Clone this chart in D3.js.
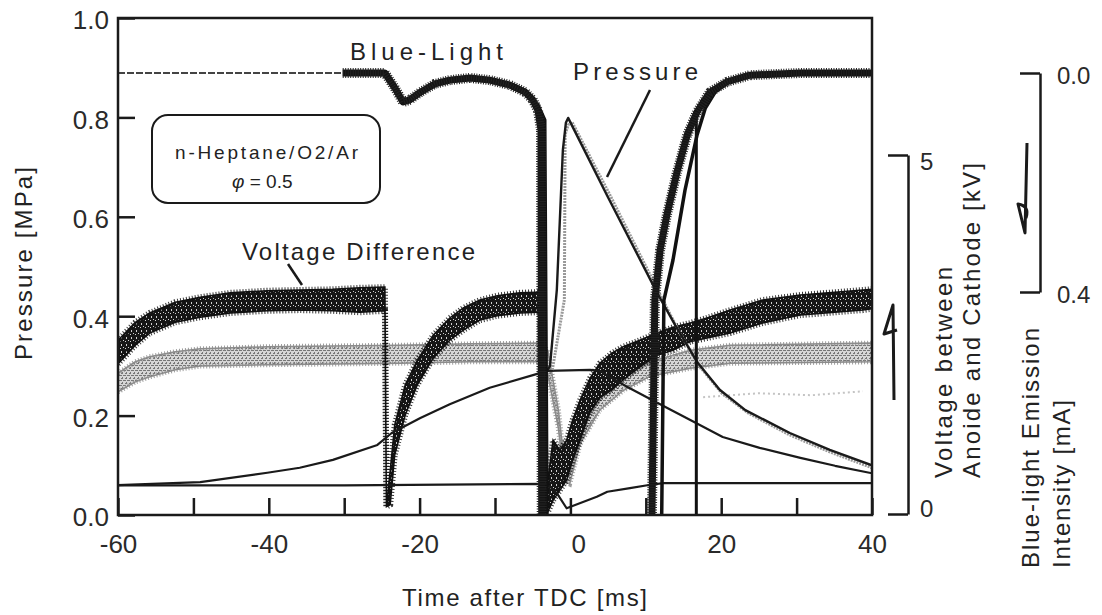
<!DOCTYPE html>
<html>
<head>
<meta charset="utf-8">
<script src="https://cdn.jsdelivr.net/npm/d3@7"></script>
<style>
	body { margin: 0; background: #fff; }
	svg { display: block; font-family: "Liberation Sans", Arial, Helvetica, sans-serif; }
</style>
</head>
<body>
<svg id="chart" width="1102" height="615" viewBox="0 0 1102 615"></svg>
<script>
// axes
const X_TICKS = [-60, -50, -40, -30, -20, -10, 0, 10, 20, 30, 40];
const X_LABELS = [-60, -40, -20, 0, 20, 40];
const PRESSURE_TICKS = [0, 0.2, 0.4, 0.6, 0.8, 1.0];
const VOLTAGE_TICKS = [0, 5];
const BLUE_TICKS = [0.0, 0.4];

// pressure [MPa] : [time ms, p]
const pressureMotored = [[-60, 0.060], [-49.1, 0.066], [-40.2, 0.085], [-35.9, 0.095], [-31.5, 0.111], [-25.6, 0.141],
	[-23.7, 0.165], [-19.9, 0.195], [-16.0, 0.223], [-10.7, 0.256], [-4.4, 0.284], [-3.1, 0.290], [2.6, 0.292],
	[3.9, 0.290], [7.5, 0.258], [11.9, 0.223], [15.9, 0.191], [20.2, 0.157], [25.1, 0.135], [30.5, 0.115],
	[35.1, 0.099], [40, 0.084]];
const pressureFired = [[-3.1, 0.290], [-2.7, 0.300], [-1.8, 0.453], [-1.0, 0.734], [-0.6, 0.789], [-0.3, 0.799],
	[4.9, 0.642], [11.5, 0.447], [13.9, 0.382], [16.8, 0.308], [19.8, 0.252], [23.2, 0.211], [29.1, 0.165],
	[34.4, 0.131], [40, 0.100]];
const pressureFiredGray = [[-2.4, 0.292], [-0.8, 0.433], [-0.7, 0.765], [-0.3, 0.785], [0.2, 0.791], [5.3, 0.642],
	[11.9, 0.443], [14.3, 0.372], [17.2, 0.298], [20.1, 0.245], [23.6, 0.205], [29.1, 0.161], [34.4, 0.127], [40, 0.095]];
const pressureFaint = [[17.6, 0.237], [25, 0.245], [32, 0.241], [38.8, 0.249]];

// voltage [kV] : [time ms, low, high] (noise band)
const voltageBlack = [[-60, 2.09, 2.42], [-57.7, 2.35, 2.67], [-55.8, 2.52, 2.80], [-52.4, 2.67, 2.95], [-49.1, 2.74, 3.02],
	[-45.1, 2.80, 3.08], [-40.2, 2.83, 3.11], [-35.9, 2.84, 3.12], [-31.5, 2.83, 3.13], [-27.9, 2.81, 3.15],
	[-24.6, 2.83, 3.16], [-24.4, 0.10, 0.10], [-23.9, 0.13, 0.61], [-23.3, 0.82, 1.24], [-21.9, 1.38, 1.80],
	[-20.3, 1.80, 2.14], [-18.2, 2.17, 2.49], [-16.0, 2.42, 2.73], [-14.2, 2.56, 2.87], [-12.0, 2.70, 2.98],
	[-9.7, 2.76, 3.04], [-6.7, 2.80, 3.08], [-4.4, 2.81, 3.09], [-4.0, 2.81, 3.09], [-3.8, 0.0, 0.0],
	[-3.0, 0.03, 0.47], [-2.3, 0.19, 1.03], [-1.4, 0.33, 0.89], [-0.5, 0.47, 1.03], [0.3, 0.75, 1.31],
	[1.3, 1.03, 1.59], [2.6, 1.42, 1.89], [3.9, 1.62, 2.10], [5.5, 1.73, 2.24], [7.0, 1.87, 2.33], [9.2, 2.05, 2.42],
	[11.5, 2.21, 2.52], [13.6, 2.28, 2.60], [15.9, 2.40, 2.66], [18.1, 2.45, 2.73], [21.2, 2.52, 2.84],
	[25.5, 2.66, 2.98], [30.5, 2.77, 3.05], [38.8, 2.84, 3.12], [40, 2.86, 3.13]];
const voltageGray = [[-60, 1.70, 1.96], [-57.7, 1.84, 2.12], [-55.8, 1.91, 2.19], [-52.4, 2.01, 2.26], [-49.1, 2.06, 2.30],
	[-40.2, 2.08, 2.33], [-31.5, 2.09, 2.34], [-22.6, 2.10, 2.35], [-13.3, 2.12, 2.37], [-4.0, 2.12, 2.38],
	[-3.0, 1.94, 2.28], [-1.6, 1.20, 1.45], [-0.7, 0.45, 0.62], [-0.1, 0.42, 0.60], [1.3, 0.98, 1.17],
	[3.9, 1.45, 1.62], [7.0, 1.72, 1.90], [10.6, 1.92, 2.12], [15.9, 2.03, 2.28], [21.2, 2.10, 2.35], [40, 2.12, 2.38]];
// voltage [kV] : [time ms, v]
const voltageLow = [[-60, 0.40], [-30, 0.40], [-4.0, 0.42], [-2.7, 0.38], [-1.8, 0.29], [-0.5, 0.08], [3.5, 0.24],
	[4.9, 0.31], [7.9, 0.36], [10.2, 0.40], [12.3, 0.43], [40, 0.43]];

// blue-light emission [mA] : [time ms, i]  (axis points down)
const blueQuiet = [[-60, 0.0], [-30.2, 0.0]];
const blueMain = [[-30.2, 0.0], [-24.6, 0.0], [-23.3, 0.027], [-22.2, 0.053], [-21.3, 0.049], [-19.9, 0.035],
	[-18.0, 0.020], [-16.0, 0.013], [-13.3, 0.009], [-10.7, 0.013], [-8.0, 0.022], [-6.0, 0.035], [-5.0, 0.049],
	[-4.3, 0.068], [-3.9, 0.104], [-3.8, 0.82], [10.8, 0.82], [11.2, 0.415], [11.9, 0.323], [12.8, 0.259],
	[14.1, 0.183], [15.5, 0.113], [16.8, 0.071], [18.5, 0.035], [20.8, 0.016], [23.8, 0.004], [30.5, 0.0], [40, 0.0]];
const blueSecond = [[-4.4, 0.055], [-3.4, 0.086], [-3.1, 0.82], [12.1, 0.82], [12.4, 0.415], [13.6, 0.342],
	[15.2, 0.214], [16.8, 0.113], [17.9, 0.064], [19.2, 0.035], [21, 0.016]];
const blueThird = [[16.7, 0.82], [16.7, 0.071], [17.5, 0.049], [19, 0.03]];

class PressureChart {
	constructor(svg_element_id) {
		this.svg = d3.select('#' + svg_element_id);

		this.x = d3.scaleLinear().domain([-60, 40]).range([118, 872]);
		this.y = d3.scaleLinear().domain([0, 1]).range([515, 18]);
		this.v = d3.scaleLinear().domain([0, 5]).range([514, 155]);
		this.b = d3.scaleLinear().domain([0, 0.4]).range([73, 292]);

		this.makeDefs();

		const plot = this.svg.append('g').attr('clip-path', 'url(#plot-clip)');

		// Order of creating groups decides what is on top
		this.drawBand(plot, voltageGray, 'url(#noise-gray)', '#8c8c8c', 5);
		this.drawLine(plot, pressureFaint, this.y, '#c4c4c4', 2, '2 3');
		this.drawBand(plot, voltageBlack, 'url(#noise-black)', '#111', 6);
		this.drawLine(plot, pressureMotored, this.y, '#1a1a1a', 2.2);
		this.drawLine(plot, voltageLow, this.v, '#1a1a1a', 2.2);
		this.drawLine(plot, pressureFiredGray, this.y, '#9a9a9a', 3, '2 1');
		this.drawLine(plot, pressureFired, this.y, '#1a1a1a', 2.4);
		this.drawLine(plot, blueQuiet, this.b, '#444', 2, '7 2');
		this.drawLine(plot, blueThird, this.b, '#111', 3);
		this.drawLine(plot, blueSecond, this.b, '#111', 3.5);
		this.drawLine(plot, blueMain, this.b, '#141414', 7);
		this.drawLine(plot, blueMain, this.b, '#222', 10, '1 1.5');

		this.drawAxes();
		this.drawLabels();
	}

	makeDefs() {
		const defs = this.svg.append('defs');
		defs.append('clipPath').attr('id', 'plot-clip')
			.append('rect')
			.attr('x', this.x.range()[0]).attr('y', this.y.range()[1])
			.attr('width', this.x.range()[1] - this.x.range()[0])
			.attr('height', this.y.range()[0] - this.y.range()[1]);

		// speckled fills for the noisy traces
		const black = defs.append('pattern').attr('id', 'noise-black')
			.attr('patternUnits', 'userSpaceOnUse').attr('width', 5).attr('height', 7);
		black.append('rect').attr('width', 5).attr('height', 7).attr('fill', '#161616');
		[[1, 1, 1, 2], [3, 4, 1, 1], [0, 5, 1, 1]].forEach(r => black.append('rect')
			.attr('x', r[0]).attr('y', r[1]).attr('width', r[2]).attr('height', r[3]).attr('fill', '#cfcfcf'));

		const gray = defs.append('pattern').attr('id', 'noise-gray')
			.attr('patternUnits', 'userSpaceOnUse').attr('width', 4).attr('height', 5);
		gray.append('rect').attr('width', 4).attr('height', 5).attr('fill', '#d6d6d6');
		[[0, 0, 2, 1], [2, 2, 1, 2], [1, 3, 1, 1], [3, 0, 1, 1]].forEach(r => gray.append('rect')
			.attr('x', r[0]).attr('y', r[1]).attr('width', r[2]).attr('height', r[3]).attr('fill', '#767676'));
	}

	drawLine(g, data, y_scale, color, width, dash = null) {
		const line = d3.line()
			.x(d => this.x(d[0]))
			.y(d => y_scale(d[1]))
			.curve(d3.curveLinear);
		g.append('path')
			.datum(data)
			.attr('d', line)
			.attr('fill', 'none')
			.attr('stroke', color)
			.attr('stroke-width', width)
			.attr('stroke-dasharray', dash)
			.attr('stroke-linejoin', 'round');
	}

	drawBand(g, data, fill, color, spike) {
		const area = d3.area()
			.x(d => this.x(d[0]))
			.y0(d => this.v(d[1]))
			.y1(d => this.v(d[2]));
		g.append('path')
			.datum(data)
			.attr('d', area)
			.attr('fill', fill)
			.attr('stroke', color)
			.attr('stroke-width', 1.5);

		// jagged edges of the noise band
		[1, 2].forEach(k => {
			g.append('path')
				.datum(data)
				.attr('d', d3.line().x(d => this.x(d[0])).y(d => this.v(d[k])))
				.attr('fill', 'none')
				.attr('stroke', color)
				.attr('stroke-width', spike)
				.attr('stroke-opacity', 0.85)
				.attr('stroke-dasharray', '1 2');
		});
	}

	drawAxes() {
		const x_axis = d3.axisBottom(this.x)
			.tickValues(X_TICKS)
			.tickSizeInner(-17)
			.tickSizeOuter(0)
			.tickPadding(20)
			.tickFormat(d => X_LABELS.includes(d) ? d : '');
		const y_axis = d3.axisLeft(this.y)
			.tickValues(PRESSURE_TICKS)
			.tickSizeInner(-17)
			.tickSizeOuter(0)
			.tickPadding(9)
			.tickFormat(d3.format('.1f'));
		const v_axis = d3.axisRight(this.v)
			.tickValues(VOLTAGE_TICKS)
			.tickSizeInner(-20)
			.tickSizeOuter(0)
			.tickPadding(12)
			.tickFormat(d3.format('d'));
		const b_axis = d3.axisRight(this.b)
			.tickValues(BLUE_TICKS)
			.tickSizeInner(-20)
			.tickSizeOuter(0)
			.tickPadding(17)
			.tickFormat(d3.format('.1f'));

		const gx = this.svg.append('g').attr('transform', 'translate(0,515)').call(x_axis);
		const gy = this.svg.append('g').attr('transform', 'translate(118,0)').call(y_axis);
		const gv = this.svg.append('g').attr('transform', 'translate(908,0)').call(v_axis);
		const gb = this.svg.append('g').attr('transform', 'translate(1040,0)').call(b_axis);

		gx.select('.domain').remove();
		gy.select('.domain').remove();
		[gx, gy, gv, gb].forEach(g => {
			g.attr('font-family', null).attr('font-size', 26);
			g.selectAll('line').attr('stroke', '#1a1a1a').attr('stroke-width', 2.5);
			g.selectAll('.domain').attr('stroke', '#1a1a1a').attr('stroke-width', 2.5);
			g.selectAll('text').attr('fill', '#2a2a2a');
		});
		gx.selectAll('.tick').filter(d => d === 0).select('text').attr('dx', '0.3em');
		gy.selectAll('text').attr('dy', '0.42em');
		gv.selectAll('text').attr('font-size', 24).attr('dy', '0.6em');
		gv.selectAll('.tick').filter(d => d === 0).select('text').attr('dy', '0.1em');
		gb.selectAll('text').attr('font-size', 24).attr('dy', '0.45em');

		// plot frame
		this.svg.append('rect')
			.attr('x', 118).attr('y', 18)
			.attr('width', 754).attr('height', 497)
			.attr('fill', 'none')
			.attr('stroke', '#1a1a1a')
			.attr('stroke-width', 2.5);
	}

	drawLabels() {
		const svg = this.svg;
		const text = (x, y, str, size, len, rotate = false) => {
			const t = svg.append('text')
				.attr('font-size', size)
				.attr('fill', '#222')
				.attr('textLength', len)
				.text(str);
			if (rotate) {
				t.attr('transform', 'translate(' + x + ',' + y + ') rotate(-90)');
			} else {
				t.attr('x', x).attr('y', y);
			}
			return t;
		};

		text(402, 606, 'Time after TDC [ms]', 24, 245);
		text(32, 360, 'Pressure [MPa]', 24, 193, true);
		text(952, 478, 'Voltage between', 24, 211, true);
		text(980, 478, 'Anoide and Cathode [kV]', 24, 315, true);
		text(1039, 568, 'Blue-light Emission', 24, 240, true);
		text(1070, 568, 'Intensity [mA]', 24, 168, true);

		text(350, 60, 'Blue-Light', 24, 153);
		text(573, 80, 'Pressure', 24, 125);
		text(242, 260, 'Voltage Difference', 24, 233);

		// leader lines
		svg.append('path').attr('d', 'M650,90 L607,177')
			.attr('stroke', '#1a1a1a').attr('stroke-width', 2.5);
		svg.append('path').attr('d', 'M288,264 L302,285')
			.attr('stroke', '#1a1a1a').attr('stroke-width', 2.5);

		// mixture box
		svg.append('rect')
			.attr('x', 152).attr('y', 115)
			.attr('width', 228).attr('height', 88)
			.attr('rx', 16)
			.attr('fill', '#fff')
			.attr('stroke', '#1a1a1a')
			.attr('stroke-width', 2);
		text(175, 159, 'n-Heptane/O2/Ar', 19, 183);
		const phi = svg.append('text')
			.attr('x', 232).attr('y', 188)
			.attr('font-size', 19)
			.attr('fill', '#222');
		phi.append('tspan').attr('font-style', 'italic').text('φ');
		phi.append('tspan').text(' = 0.5');

		// hand-drawn arrows next to the right axes
		svg.append('path').attr('d', 'M894,400 L893,305 L884,334 L897,330')
			.attr('fill', 'none').attr('stroke', '#1a1a1a').attr('stroke-width', 3)
			.attr('stroke-linejoin', 'round');
		svg.append('path').attr('d', 'M1027,143 L1025,233 L1018,204 Q1030,206 1026,218')
			.attr('fill', 'none').attr('stroke', '#1a1a1a').attr('stroke-width', 3)
			.attr('stroke-linejoin', 'round');
	}
}

function whenDocumentLoaded(action) {
	if (document.readyState === "loading") {
		document.addEventListener("DOMContentLoaded", action);
	} else {
		action();
	}
}

whenDocumentLoaded(() => {
	plot_object = new PressureChart('chart');
});
</script>
</body>
</html>
